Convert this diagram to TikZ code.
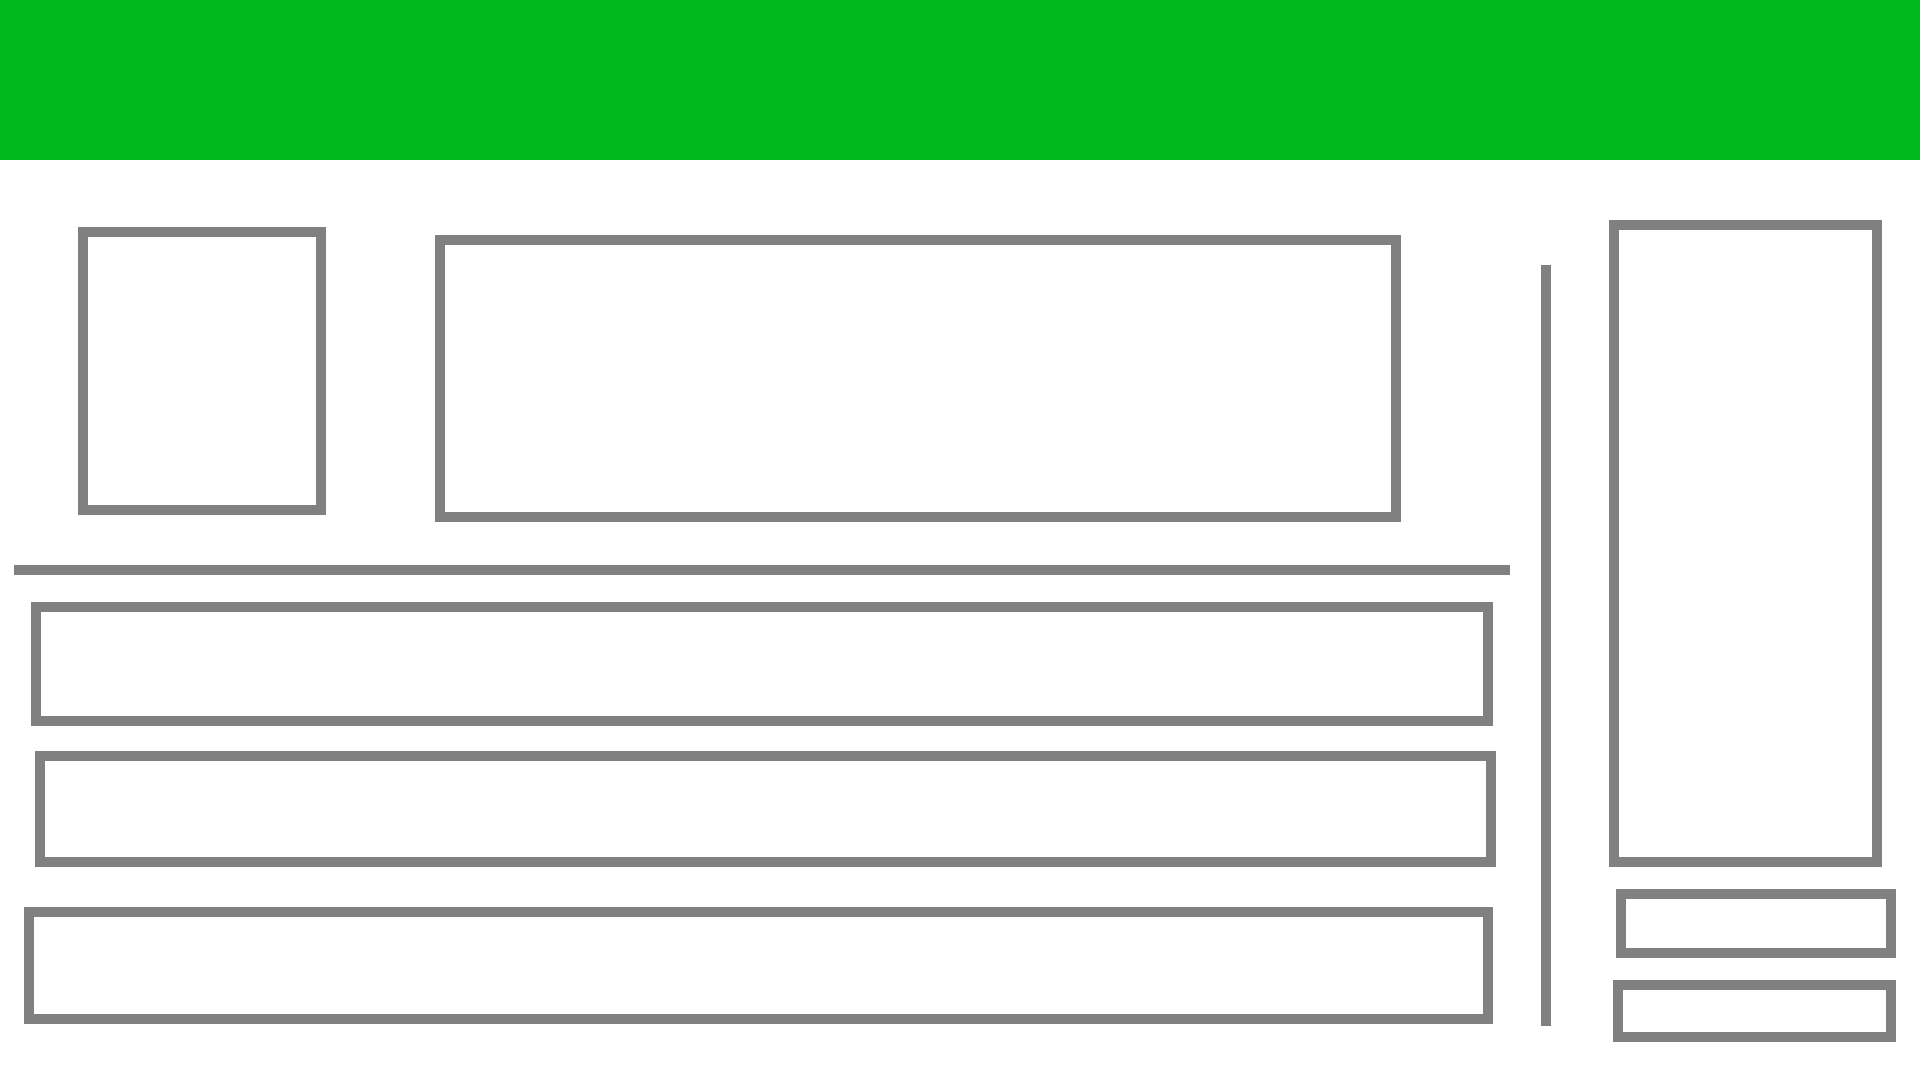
\documentclass[tikz,border=0pt]{standalone}
\usepackage{tikz}
\definecolor{bannergreen}{RGB}{0,184,28}
\definecolor{framegray}{RGB}{128,128,128}
\begin{document}
\begin{tikzpicture}[x=0.5pt,y=-0.5pt,
  panel/.style={draw=framegray, line width=5pt, fill=white, rectangle,
    inner sep=0pt, outer sep=0pt},
  rule/.style={draw=framegray, line width=5pt, line cap=butt}]
  % canvas
  \useasboundingbox[fill=white] (0,0) rectangle (1920,1080);
  % header band
  \fill[bannergreen] (0,0) rectangle (1920,160.5);

  % upper panels
  \node[panel, minimum width=119pt, minimum height=139pt] (thumb) at (202,371) {};
  \node[panel, minimum width=478pt, minimum height=138.5pt] (hero) at (918,378.5) {};

  % horizontal divider
  \coordinate (divL) at (14,570.3);
  \coordinate (divR) at (1510,570.3);
  \draw[rule] (divL) -- (divR);

  % stacked rows
  \node[panel, minimum width=726pt, minimum height=57pt] (rowA) at (762,664) {};
  \node[panel, minimum width=725.5pt, minimum height=53pt] (rowB) at (765.5,809) {};
  \node[panel, minimum width=729.5pt, minimum height=53.5pt] (rowC) at (758.5,965.5) {};

  % vertical divider
  \coordinate (vdivT) at (1545.5,265);
  \coordinate (vdivB) at (1545.5,1026);
  \draw[rule] (vdivT) -- (vdivB);

  % sidebar
  \node[panel, minimum width=131.5pt, minimum height=318.5pt] (side) at (1745.5,543.5) {};
  \node[panel, minimum width=135pt, minimum height=29.5pt] (sideA) at (1756,923.5) {};
  \node[panel, minimum width=136.5pt, minimum height=26pt] (sideB) at (1754.5,1011) {};
\end{tikzpicture}
\end{document}
